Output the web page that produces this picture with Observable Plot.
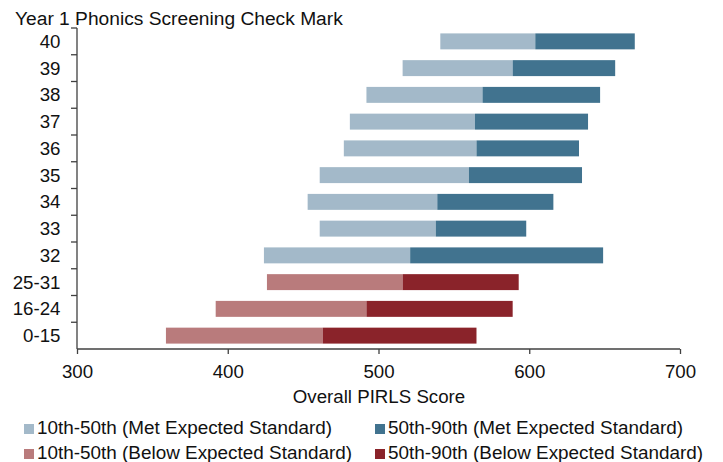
<!DOCTYPE html>
<html><head><meta charset="utf-8">
<script src="https://cdn.jsdelivr.net/npm/d3@7"></script>
<script src="https://cdn.jsdelivr.net/npm/@observablehq/plot@0.6"></script>
<style>
body{margin:0;background:#fff;font-family:"Liberation Sans",Arial,sans-serif;color:#111;}
#wrap{position:relative;width:723px;height:462px;overflow:hidden}
#title{position:absolute;left:15px;top:7px;font-size:19.2px;line-height:24px;white-space:nowrap}
#chart{position:absolute;left:0;top:20px}
.leg{position:absolute;font-size:18.9px;line-height:24px;white-space:nowrap;display:flex;align-items:center}
.sw{width:10px;height:10px;margin-right:3px;margin-top:2px;display:inline-block}
</style></head><body>
<div id="wrap">
<div id="title">Year 1 Phonics Screening Check Mark</div>
<div id="chart"></div>
<div id="legend"></div>
</div>
<script>
const categories = ["40","39","38","37","36","35","34","33","32","25-31","16-24","0-15"];
const p10 = [541,516,492,481,477,461,453,461,424,426,392,359];
const p50 = [604,589,569,564,565,560,539,538,521,516,492,463];
const p90 = [670,657,647,639,633,635,616,598,649,593,589,565];
const status = ["Met","Met","Met","Met","Met","Met","Met","Met","Met","Below","Below","Below"];
const seriesNames = [
  "10th-50th (Met Expected Standard)",
  "50th-90th (Met Expected Standard)",
  "10th-50th (Below Expected Standard)",
  "50th-90th (Below Expected Standard)"
];
const seriesColors = ["#A3B9C9","#41738F","#B97B7C","#8A232A"];
const xTicks = [300,400,500,600,700];
const xLabel = "Overall PIRLS Score";

const rows = categories.flatMap((c, i) => {
  const m = status[i] === "Met";
  return [
    {cat: c, x1: p10[i], x2: p50[i], series: seriesNames[m ? 0 : 2]},
    {cat: c, x1: p50[i], x2: p90[i], series: seriesNames[m ? 1 : 3]}
  ];
});

const chart = Plot.plot({
  width: 723, height: 390,
  marginTop: 8, marginBottom: 61, marginLeft: 77, marginRight: 43,
  style: {fontFamily: '"Liberation Sans", Arial, sans-serif', fontSize: "18.7px", color: "#111", background: "transparent", overflow: "visible"},
  x: {domain: [300, 700]},
  y: {type: "band", domain: categories, padding: 0, round: false, label: null},
  color: {domain: seriesNames, range: seriesColors},
  marks: [
    Plot.barX(rows, {y: "cat", x1: "x1", x2: "x2", fill: "series", insetTop: 5.4, insetBottom: 5.4}),
    Plot.axisY({tickSize: 0, tickPadding: 17, label: null}),
    Plot.axisX({ticks: xTicks, tickSize: 5, tickPadding: 10.5, stroke: "#404040", strokeWidth: 1.3,
      label: xLabel, labelAnchor: "center", labelArrow: "none", labelOffset: 53})
  ]
});
document.getElementById("chart").appendChild(chart);

const svg = d3.select(chart);
const xs = chart.scale("x"), ys = chart.scale("y");
const [xa, xb] = xs.range;
const [ya, yb] = ys.range;
const g = svg.append("g").attr("stroke", "#404040").attr("stroke-width", 1.3).attr("fill", "none");
g.append("line").attr("x1", xa).attr("x2", xa).attr("y1", ya).attr("y2", yb);
g.append("line").attr("x1", xa).attr("x2", xb).attr("y1", yb).attr("y2", yb);
categories.forEach(c => {
  const y = ys.apply(c);
  g.append("line").attr("x1", xa - 6).attr("x2", xa).attr("y1", y).attr("y2", y);
});

const legend = document.getElementById("legend");
const legPos = [[24, 416], [375, 416], [24, 441], [375, 441]];
seriesNames.forEach((s, i) => {
  const d = document.createElement("div");
  d.className = "leg";
  d.style.left = legPos[i][0] + "px";
  d.style.top = legPos[i][1] + "px";
  const sw = document.createElement("span");
  sw.className = "sw";
  sw.style.background = seriesColors[i];
  d.appendChild(sw);
  d.appendChild(document.createTextNode(s));
  legend.appendChild(d);
});
</script>
</body></html>
